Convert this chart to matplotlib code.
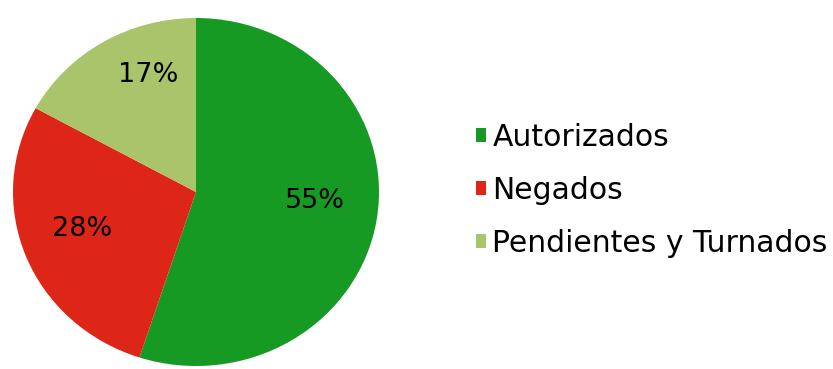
import matplotlib.pyplot as plt
from matplotlib.patches import Patch

plt.rcParams['font.family'] = ['DejaVu Sans']

categories = ['Autorizados', 'Negados', 'Pendientes y Turnados']
shares = [55, 28, 17]
colors = ['#179a23', '#dd2617', '#a9c46a']

fig = plt.figure(figsize=(8.33, 3.69), dpi=100)
ax = fig.add_axes([13 / 833, 3 / 369, 366 / 833, 348 / 369])

wedges, _ = ax.pie(shares, colors=colors, startangle=90, counterclock=False,
                   wedgeprops=dict(edgecolor='none'))
ax.set_aspect('auto')
ax.set_xlim(-1, 1)
ax.set_ylim(-1, 1)

# percentage labels placed inside each slice
label_pos = [(0.65, -0.05), (-0.62, -0.21), (-0.26, 0.67)]
for (x, y), v in zip(label_pos, shares):
    ax.text(x, y, f'{v}%', ha='center', va='center', fontsize=19.5, color='black')

handles = [Patch(facecolor=c, edgecolor='none') for c in colors]
fig.legend(handles, categories, loc='upper left', bbox_to_anchor=(464 / 833, 1 - 111 / 369),
           frameon=False, fontsize=21.5, handlelength=0.35, handleheight=0.35,
           handletextpad=0.2, labelspacing=0.8, borderaxespad=0)

fig.savefig('out.png', dpi=100)
